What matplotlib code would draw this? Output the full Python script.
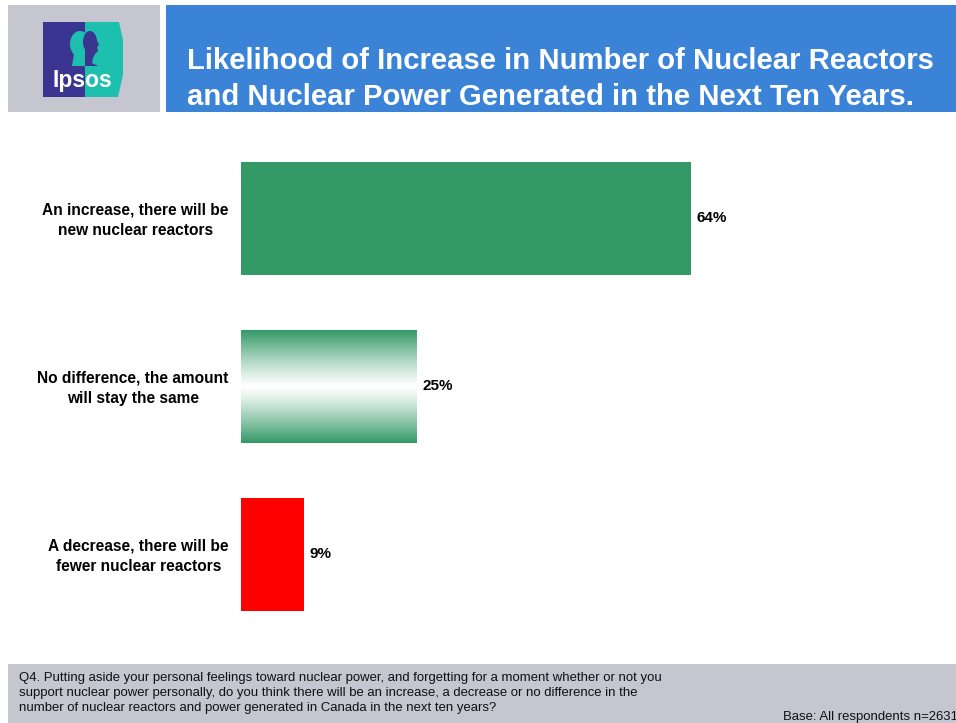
import numpy as np
import matplotlib
matplotlib.use("Agg")
import matplotlib.pyplot as plt
from matplotlib.patches import Rectangle, Ellipse, Polygon

plt.rcParams['font.family'] = ['Liberation Sans', 'DejaVu Sans']

categories = [
    "An increase, there will be\nnew nuclear reactors",
    "No difference, the amount\nwill stay the same",
    "A decrease, there will be\nfewer nuclear reactors",
]
values = [64, 25, 9]
value_labels = ["64%", "25%", "9%"]

title = ("Likelihood of Increase in Number of Nuclear Reactors\n"
         "and Nuclear Power Generated in the Next Ten Years.")
question = ("Q4. Putting aside your personal feelings toward nuclear power, and forgetting for a moment whether or not you\n"
            "support nuclear power personally, do you think there will be an increase, a decrease or no difference in the\n"
            "number of nuclear reactors and power generated in Canada in the next ten years?")
base_note = "Base: All respondents n=2631"

W, H = 956, 723
fig = plt.figure(figsize=(W / 100, H / 100), dpi=100)
fig.patch.set_facecolor("white")
renderer = fig.canvas.get_renderer()

# Full-page overlay in pixel coordinates for the slide furniture
deco = fig.add_axes([0, 0, 1, 1], zorder=0)
deco.set_xlim(0, W)
deco.set_ylim(H, 0)
deco.axis("off")


def fit_width(txt, target_px):
    """Scale a text's font size so its rendered width equals target_px."""
    ext = txt.get_window_extent(renderer=renderer)
    txt.set_fontsize(txt.get_fontsize() * target_px / ext.width)


# Header: grey logo panel and blue title panel
deco.add_patch(Rectangle((8, 5), 152, 107, facecolor="#C6C6D0", edgecolor="none"))
deco.add_patch(Rectangle((166, 5), 790, 107, facecolor="#3A83D6", edgecolor="none"))
ttl = deco.text(187, 79, title, color="white", fontsize=21, fontweight="bold",
                ha="left", va="center", linespacing=1.32)
fit_width(ttl, 746)

# Ipsos logo
purple, teal = "#3B3592", "#1DBFAE"
deco.add_patch(Rectangle((43, 22), 42, 75, facecolor=purple, edgecolor="none"))
deco.add_patch(Polygon([(85, 22), (119, 22), (123, 40), (123, 75), (118, 97), (85, 97)],
                       closed=True, facecolor=teal, edgecolor="none"))
# head silhouette: teal back of head on purple, purple face on teal
deco.add_patch(Ellipse((80, 44), 20, 26, facecolor=teal, edgecolor="none"))
deco.add_patch(Polygon([(74, 54), (85, 54), (85, 66), (72, 66)],
                       closed=True, facecolor=teal, edgecolor="none"))
deco.add_patch(Ellipse((90, 42), 14, 22, facecolor=purple, edgecolor="none"))
deco.add_patch(Polygon([(85, 34), (95, 36), (99, 45), (97, 47), (98, 51), (95, 54),
                        (93, 58), (92, 63), (98, 66), (85, 66)],
                       closed=True, facecolor=purple, edgecolor="none"))
deco.text(82, 80, "Ipsos", color="white", fontsize=16.5, fontweight="bold",
          ha="center", va="center")

# Footer band
deco.add_patch(Rectangle((8, 664), 948, 59, facecolor="#C6C6D0", edgecolor="none"))
narrow = ["Liberation Sans Narrow", "Liberation Sans"]
q = deco.text(19, 693, question, fontsize=8, ha="left", va="center", color="#111111",
              linespacing=1.3, family=narrow)
fit_width(q, 646)
bn = deco.text(783, 717, base_note, fontsize=8, ha="left", va="center", color="#111111",
               family=narrow, clip_on=False)
bn.set_fontsize(q.get_fontsize())

# Chart axes: 0..100 % spans x=241..944 px, 168 px per category slot
ax_top, ax_bot = 140, 640
slot = 168.0
ax = fig.add_axes([241 / W, 1 - ax_bot / H, 703 / W, (ax_bot - ax_top) / H], zorder=1)
ax.patch.set_alpha(0)
ypos = np.arange(len(values))
colors = ["#339966", "#339966", "#FF0000"]
bars = ax.barh(ypos, values, height=113 / slot, color=colors, edgecolor="none")
y_top = -(218.5 - ax_top) / slot
y_bot = y_top + (ax_bot - ax_top) / slot


def set_limits():
    ax.set_xlim(0, 100)
    ax.set_ylim(y_bot, y_top)


set_limits()
for s in ax.spines.values():
    s.set_visible(False)
ax.set_xticks([])
ax.set_yticks([])

# Green-white-green gradient for the "no difference" bar
g = np.array([0x33, 0x99, 0x66]) / 255.0
t = np.linspace(-1, 1, 256)
w = np.clip(np.abs(t) ** 1.2, 0, 1)[:, None]
grad = (1 - w) * np.ones(3) + w * g
grad = np.repeat(grad[:, None, :], 2, axis=1)
b = bars[1]
x0, y0 = b.get_x(), b.get_y()
img = ax.imshow(grad, extent=[x0, x0 + b.get_width(), y0 + b.get_height(), y0],
                aspect="auto", interpolation="bilinear", zorder=2)
img.set_clip_path(b)
set_limits()

for y, v, lab in zip(ypos, values, value_labels):
    ax.text(v + 0.8, y, lab, fontsize=11, fontweight="bold", ha="left", va="center")

for y, cat in zip(ypos, categories):
    ax.annotate(cat, xy=(0, y), xycoords="data", xytext=(-9, -1), textcoords="offset points",
                ha="right", va="center", multialignment="center",
                fontsize=11.2, fontweight="bold", linespacing=1.45)

fig.savefig("out.png", dpi=100, facecolor="white")
